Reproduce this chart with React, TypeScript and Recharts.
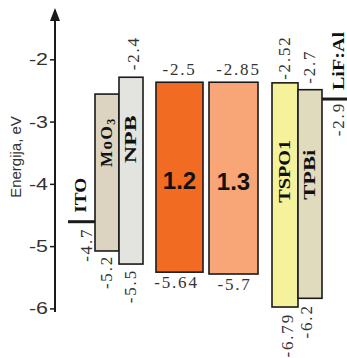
import { ComposedChart, XAxis, YAxis, ReferenceArea, ReferenceDot, Label } from "recharts";

// energy levels as drawn against the axis (eV)
const layers = ["ITO", "MoO3", "NPB", "1.2", "1.3", "TSPO1", "TPBi", "LiF:Al"];
const upperLevel = [-4.6, -2.55, -2.28, -2.36, -2.36, -2.37, -2.48, -2.63];
const lowerLevel = [-4.6, -5.07, -5.28, -5.41, -5.44, -5.97, -5.83, -2.63];
// printed values
const upperText = ["", "", "-2.4", "-2.5", "-2.85", "-2.52", "-2.7", ""];
const lowerText = ["-4.7", "-5.2", "-5.5", "-5.64", "-5.7", "-6.79", "-6.2", "-2.9"];
const yTicks = [-2, -3, -4, -5, -6];

const serif = "'Liberation Serif', 'Times New Roman', serif";
const sans = "'Liberation Sans', Arial, sans-serif";
const ink = "#1a1a1a";
const valueInk = "#333";

// x0/x1 in plot units, label offsets in px
const layout = [
  { x0: 13, x1: 40, fill: "none", line: true, nameGap: 9, nameDx: -1, nameLen: 35, botGap: 6, botDx: 5 },
  { x0: 40, x1: 64, fill: "#dcd3c0", nameBottom: 73, botGap: 4, botDx: 0 },
  { x0: 64, x1: 88, fill: "#e3e3df", nameBottom: 86, nameLen: 48, topGap: 7, topDx: 3, botGap: 5, botDx: 0 },
  { x0: 101, x1: 148, fill: "#f26b22", flat: true, topDx: 0, botDx: -3 },
  { x0: 154, x1: 203, fill: "#f8a677", flat: true, topDx: 5, botDx: 1 },
  { x0: 217, x1: 243, fill: "#f6f29b", nameBottom: 120, nameLen: 63, topGap: 3, topDx: 0, botGap: 6, botDx: 3 },
  { x0: 243, x1: 267, fill: "#e0dbbd", nameBottom: 110, nameLen: 50, topGap: 6, topDx: 0, botGap: 6, botDx: -3 },
  { x0: 267, x1: 292, fill: "none", line: true, nameGap: 9, nameDx: 4, nameLen: 58, botGap: 3, botDx: 4 },
];

function VText({ x, y, anchor, bold, len, size = 17, fill = valueInk, spacing = 1.8, children }: any) {
  return (
    <text
      x={x}
      y={y}
      transform={`rotate(-90 ${x} ${y})`}
      textAnchor={anchor}
      dominantBaseline="central"
      fontFamily={serif}
      fontSize={size}
      fontWeight={bold ? 700 : 400}
      fill={fill}
      letterSpacing={len ? undefined : spacing}
      textLength={len}
      lengthAdjust={len ? "spacingAndGlyphs" : undefined}
    >
      {children}
    </text>
  );
}

function Layer({ i, x, y, width, height }: any) {
  const L = layout[i];
  const cx = x + width / 2;
  const top = y;
  const bottom = y + height;
  const name = layers[i];

  if (L.line) {
    return (
      <g>
        <line x1={x} x2={x + width} y1={top} y2={top} stroke={ink} strokeWidth={3} />
        <VText x={cx + L.nameDx} y={top - L.nameGap} anchor="start" bold len={L.nameLen} size={16} fill="#111">
          {name}
        </VText>
        <VText x={cx + L.botDx} y={top + L.botGap} anchor="end">
          {lowerText[i]}
        </VText>
      </g>
    );
  }

  return (
    <g>
      <rect x={x} y={top} width={width} height={height} fill={L.fill} stroke={ink} strokeWidth={1.6} />
      {L.flat ? (
        <>
          <text x={cx + L.topDx} y={top - 7} textAnchor="middle" fontFamily={serif} fontSize={17} letterSpacing={1.8} fill={valueInk}>
            {upperText[i]}
          </text>
          <text x={cx + L.botDx} y={bottom + 16} textAnchor="middle" fontFamily={serif} fontSize={17} letterSpacing={1.8} fill={valueInk}>
            {lowerText[i]}
          </text>
          <text x={cx} y={top + height / 2 + 3} textAnchor="middle" dominantBaseline="central" fontFamily={sans} fontWeight={700} fontSize={24} fill="#111">
            {name}
          </text>
        </>
      ) : (
        <>
          {upperText[i] && (
            <VText x={cx + L.topDx} y={top - L.topGap} anchor="start">
              {upperText[i]}
            </VText>
          )}
          <VText x={cx + L.botDx} y={bottom + L.botGap} anchor="end">
            {lowerText[i]}
          </VText>
          {name === "MoO3" ? (
            <text
              x={cx}
              y={top + L.nameBottom}
              transform={`rotate(-90 ${cx} ${top + L.nameBottom})`}
              textAnchor="start"
              dominantBaseline="central"
              fontFamily={serif}
              fontWeight={700}
              fontSize={17}
              letterSpacing={1.5}
              fill="#111"
            >
              MoO<tspan fontSize={12} dy={4}>3</tspan>
            </text>
          ) : (
            <VText x={cx} y={top + L.nameBottom} anchor="start" bold len={L.nameLen} size={16} fill="#111">
              {name}
            </VText>
          )}
        </>
      )}
    </g>
  );
}

const EnergyTick = ({ x, y, payload }: any) => (
  <text
    x={x}
    y={y}
    textAnchor="end"
    dominantBaseline="central"
    fontFamily={sans}
    fontSize={16}
    fill={valueInk}
    textLength={19}
    lengthAdjust="spacingAndGlyphs"
  >
    {payload.value}
  </text>
);

const AxisArrow = ({ cx, cy }: any) => (
  <path d={`M${cx} ${cy - 2} L${cx - 5} ${cy + 11} L${cx + 5} ${cy + 11} Z`} fill={ink} />
);

const rows = layers.map((name, i) => ({ name, x: (layout[i].x0 + layout[i].x1) / 2, upper: upperLevel[i] }));

export default function App() {
  return (
    <div style={{ width: 347, height: 358, background: "#fff" }}>
      <style>{"body{margin:0}"}</style>
      <ComposedChart width={347} height={358} data={rows} margin={{ top: 10, right: 0, bottom: 46, left: 0 }}>
        <XAxis type="number" dataKey="x" domain={[0, 292]} allowDataOverflow hide />
        <YAxis
          type="number"
          domain={[-6.05, -1.2]}
          allowDataOverflow
          ticks={yTicks}
          width={55}
          tickSize={5}
          tickMargin={2}
          tick={<EnergyTick />}
          axisLine={{ stroke: ink, strokeWidth: 2 }}
          tickLine={{ stroke: ink, strokeWidth: 1.5 }}
        >
          <Label
            content={({ viewBox }: any) => {
              const x = viewBox.x + 15;
              const y = viewBox.y + 147;
              return (
                <text x={x} y={y} transform={`rotate(-90 ${x} ${y})`} textAnchor="middle" dominantBaseline="central" fontFamily={sans} fontSize={15} fill={valueInk}>
                  Energija, eV
                </text>
              );
            }}
          />
        </YAxis>
        <ReferenceDot x={0} y={-1.2} ifOverflow="visible" shape={<AxisArrow />} />
        {layers.map((name, i) => (
          <ReferenceArea
            key={name}
            x1={layout[i].x0}
            x2={layout[i].x1}
            y1={lowerLevel[i]}
            y2={upperLevel[i]}
            ifOverflow="visible"
            shape={(p: any) => <Layer i={i} {...p} />}
          />
        ))}
      </ComposedChart>
    </div>
  );
}
